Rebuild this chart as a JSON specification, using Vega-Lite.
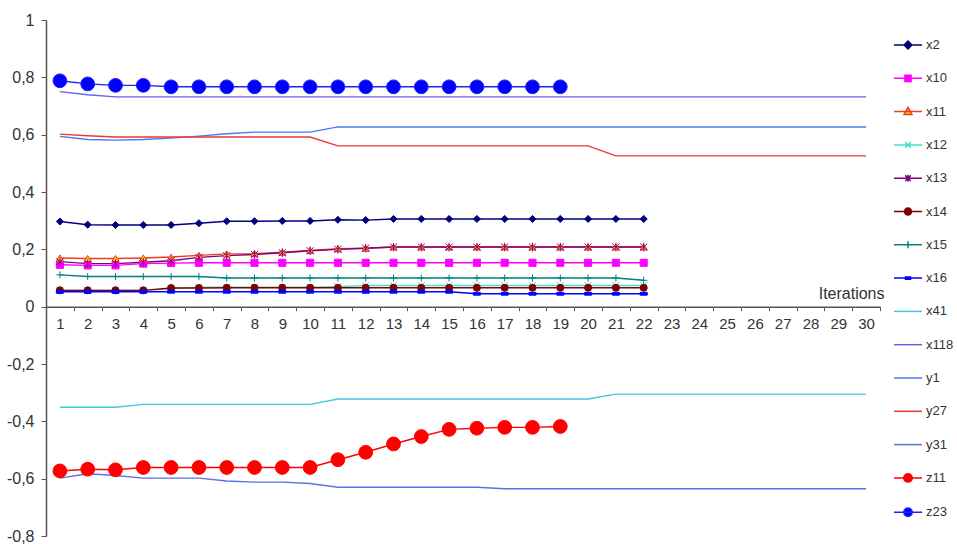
{
  "$schema": "https://vega.github.io/schema/vega-lite/v6.json",
  "width": 834,
  "height": 516,
  "padding": {"left": 46, "top": 20, "right": 77, "bottom": 8},
  "autosize": {"type": "none"},
  "background": "white",
  "config": {"view": {"stroke": null}, "font": "Liberation Sans"},
  "data": {
    "values": [
      {"i": 1, "x2": 0.297, "x10": 0.146, "x11": 0.170, "x12": 0.057, "x13": 0.157, "x14": 0.057, "x15": 0.111, "x16": 0.052, "x41": -0.351, "x118": 0.750, "y1": 0.594, "y27": 0.602, "y31": -0.598, "z11": -0.573, "z23": 0.788},
      {"i": 2, "x2": 0.286, "x10": 0.144, "x11": 0.168, "x12": 0.057, "x13": 0.150, "x14": 0.057, "x15": 0.105, "x16": 0.052, "x41": -0.351, "x118": 0.739, "y1": 0.583, "y27": 0.596, "y31": -0.583, "z11": -0.567, "z23": 0.777},
      {"i": 3, "x2": 0.285, "x10": 0.144, "x11": 0.168, "x12": 0.057, "x13": 0.150, "x14": 0.057, "x15": 0.105, "x16": 0.052, "x41": -0.351, "x118": 0.732, "y1": 0.581, "y27": 0.592, "y31": -0.589, "z11": -0.569, "z23": 0.772},
      {"i": 4, "x2": 0.285, "x10": 0.150, "x11": 0.170, "x12": 0.057, "x13": 0.155, "x14": 0.057, "x15": 0.105, "x16": 0.052, "x41": -0.341, "x118": 0.732, "y1": 0.583, "y27": 0.592, "y31": -0.598, "z11": -0.561, "z23": 0.772},
      {"i": 5, "x2": 0.285, "x10": 0.152, "x11": 0.173, "x12": 0.062, "x13": 0.160, "x14": 0.065, "x15": 0.105, "x16": 0.052, "x41": -0.341, "x118": 0.732, "y1": 0.588, "y27": 0.592, "y31": -0.598, "z11": -0.561, "z23": 0.767},
      {"i": 6, "x2": 0.291, "x10": 0.153, "x11": 0.179, "x12": 0.068, "x13": 0.172, "x14": 0.065, "x15": 0.105, "x16": 0.052, "x41": -0.341, "x118": 0.732, "y1": 0.595, "y27": 0.592, "y31": -0.598, "z11": -0.561, "z23": 0.767},
      {"i": 7, "x2": 0.298, "x10": 0.153, "x11": 0.184, "x12": 0.068, "x13": 0.178, "x14": 0.066, "x15": 0.100, "x16": 0.052, "x41": -0.341, "x118": 0.732, "y1": 0.603, "y27": 0.592, "y31": -0.608, "z11": -0.561, "z23": 0.767},
      {"i": 8, "x2": 0.298, "x10": 0.153, "x11": 0.185, "x12": 0.068, "x13": 0.182, "x14": 0.066, "x15": 0.100, "x16": 0.052, "x41": -0.341, "x118": 0.732, "y1": 0.609, "y27": 0.592, "y31": -0.612, "z11": -0.561, "z23": 0.767},
      {"i": 9, "x2": 0.299, "x10": 0.153, "x11": 0.190, "x12": 0.068, "x13": 0.188, "x14": 0.066, "x15": 0.100, "x16": 0.052, "x41": -0.341, "x118": 0.732, "y1": 0.609, "y27": 0.592, "y31": -0.612, "z11": -0.561, "z23": 0.767},
      {"i": 10, "x2": 0.299, "x10": 0.153, "x11": 0.196, "x12": 0.068, "x13": 0.195, "x14": 0.066, "x15": 0.100, "x16": 0.052, "x41": -0.341, "x118": 0.732, "y1": 0.609, "y27": 0.592, "y31": -0.617, "z11": -0.561, "z23": 0.767},
      {"i": 11, "x2": 0.303, "x10": 0.153, "x11": 0.202, "x12": 0.070, "x13": 0.200, "x14": 0.066, "x15": 0.100, "x16": 0.052, "x41": -0.322, "x118": 0.732, "y1": 0.627, "y27": 0.561, "y31": -0.630, "z11": -0.534, "z23": 0.767},
      {"i": 12, "x2": 0.302, "x10": 0.153, "x11": 0.204, "x12": 0.074, "x13": 0.204, "x14": 0.066, "x15": 0.100, "x16": 0.052, "x41": -0.322, "x118": 0.732, "y1": 0.627, "y27": 0.561, "y31": -0.630, "z11": -0.508, "z23": 0.767},
      {"i": 13, "x2": 0.306, "x10": 0.153, "x11": 0.208, "x12": 0.074, "x13": 0.208, "x14": 0.066, "x15": 0.100, "x16": 0.052, "x41": -0.322, "x118": 0.732, "y1": 0.627, "y27": 0.561, "y31": -0.630, "z11": -0.479, "z23": 0.767},
      {"i": 14, "x2": 0.306, "x10": 0.153, "x11": 0.208, "x12": 0.074, "x13": 0.208, "x14": 0.066, "x15": 0.100, "x16": 0.052, "x41": -0.322, "x118": 0.732, "y1": 0.627, "y27": 0.561, "y31": -0.630, "z11": -0.453, "z23": 0.767},
      {"i": 15, "x2": 0.306, "x10": 0.153, "x11": 0.208, "x12": 0.074, "x13": 0.208, "x14": 0.066, "x15": 0.100, "x16": 0.052, "x41": -0.322, "x118": 0.732, "y1": 0.627, "y27": 0.561, "y31": -0.630, "z11": -0.428, "z23": 0.767},
      {"i": 16, "x2": 0.306, "x10": 0.153, "x11": 0.208, "x12": 0.074, "x13": 0.208, "x14": 0.066, "x15": 0.100, "x16": 0.045, "x41": -0.322, "x118": 0.732, "y1": 0.627, "y27": 0.561, "y31": -0.630, "z11": -0.424, "z23": 0.767},
      {"i": 17, "x2": 0.306, "x10": 0.153, "x11": 0.208, "x12": 0.074, "x13": 0.208, "x14": 0.066, "x15": 0.100, "x16": 0.045, "x41": -0.322, "x118": 0.732, "y1": 0.627, "y27": 0.561, "y31": -0.635, "z11": -0.421, "z23": 0.767},
      {"i": 18, "x2": 0.306, "x10": 0.153, "x11": 0.208, "x12": 0.074, "x13": 0.208, "x14": 0.066, "x15": 0.100, "x16": 0.045, "x41": -0.322, "x118": 0.732, "y1": 0.627, "y27": 0.561, "y31": -0.635, "z11": -0.421, "z23": 0.767},
      {"i": 19, "x2": 0.306, "x10": 0.153, "x11": 0.208, "x12": 0.074, "x13": 0.208, "x14": 0.066, "x15": 0.100, "x16": 0.045, "x41": -0.322, "x118": 0.732, "y1": 0.627, "y27": 0.561, "y31": -0.635, "z11": -0.418, "z23": 0.767},
      {"i": 20, "x2": 0.306, "x10": 0.153, "x11": 0.208, "x12": 0.074, "x13": 0.208, "x14": 0.066, "x15": 0.100, "x16": 0.045, "x41": -0.322, "x118": 0.732, "y1": 0.627, "y27": 0.561, "y31": -0.635},
      {"i": 21, "x2": 0.306, "x10": 0.153, "x11": 0.208, "x12": 0.074, "x13": 0.208, "x14": 0.066, "x15": 0.100, "x16": 0.045, "x41": -0.305, "x118": 0.732, "y1": 0.627, "y27": 0.526, "y31": -0.635},
      {"i": 22, "x2": 0.306, "x10": 0.153, "x11": 0.208, "x12": 0.074, "x13": 0.208, "x14": 0.066, "x15": 0.092, "x16": 0.045, "x41": -0.305, "x118": 0.732, "y1": 0.627, "y27": 0.526, "y31": -0.635},
      {"i": 23, "x41": -0.305, "x118": 0.732, "y1": 0.627, "y27": 0.526, "y31": -0.635},
      {"i": 24, "x41": -0.305, "x118": 0.732, "y1": 0.627, "y27": 0.526, "y31": -0.635},
      {"i": 25, "x41": -0.305, "x118": 0.732, "y1": 0.627, "y27": 0.526, "y31": -0.635},
      {"i": 26, "x41": -0.305, "x118": 0.732, "y1": 0.627, "y27": 0.526, "y31": -0.635},
      {"i": 27, "x41": -0.305, "x118": 0.732, "y1": 0.627, "y27": 0.526, "y31": -0.635},
      {"i": 28, "x41": -0.305, "x118": 0.732, "y1": 0.627, "y27": 0.526, "y31": -0.635},
      {"i": 29, "x41": -0.305, "x118": 0.732, "y1": 0.627, "y27": 0.526, "y31": -0.635},
      {"i": 30, "x41": -0.305, "x118": 0.732, "y1": 0.627, "y27": 0.526, "y31": -0.635}
    ]
  },
  "transform": [
    {"fold": ["x2", "x10", "x11", "x12", "x13", "x14", "x15", "x16", "x41", "x118", "y1", "y27", "y31", "z11", "z23"], "as": ["s", "v"]},
    {"filter": "isValid(datum.v)"}
  ],
  "encoding": {
    "x": {
      "field": "i",
      "type": "ordinal",
      "scale": {"type": "band", "domain": [1,2,3,4,5,6,7,8,9,10,11,12,13,14,15,16,17,18,19,20,21,22,23,24,25,26,27,28,29,30], "paddingInner": 0, "paddingOuter": 0},
      "axis": {
        "orient": "bottom",
        "offset": -229.3,
        "tickBand": "extent",
        "labelAngle": 0,
        "labelFontSize": 15,
        "labelColor": "#333333",
        "labelPadding": 6,
        "tickSize": 4,
        "tickColor": "#555555",
        "domainColor": "#555555",
        "domainWidth": 1.5,
        "title": "Iterations",
        "titleFontSize": 16,
        "titleFontWeight": "normal",
        "titleColor": "#333333",
        "titleAnchor": "end",
        "titleAlign": "right",
        "titleBaseline": "bottom",
        "titleY": -5,
        "titleX": 838
      }
    },
    "y": {
      "field": "v",
      "type": "quantitative",
      "scale": {"domain": [-0.8, 1], "nice": false, "zero": false},
      "axis": {
        "values": [-0.8, -0.6, -0.4, -0.2, 0, 0.2, 0.4, 0.6, 0.8, 1],
        "labelExpr": "replace(replace(format(datum.value, '.1~f'), '.', ','), '\u2212', '-')",
        "title": null,
        "grid": false,
        "tickSize": 5,
        "tickColor": "#555555",
        "domainColor": "#555555",
        "domainWidth": 1.5,
        "labelFontSize": 16,
        "labelColor": "#333333",
        "labelPadding": 7
      }
    }
  },
  "layer": [
    {
      "mark": {"type": "line", "strokeWidth": 1.4},
      "encoding": {
        "stroke": {
          "field": "s",
          "type": "nominal",
          "scale": {
            "domain": ["x2", "x10", "x11", "x12", "x13", "x14", "x15", "x16", "x41", "x118", "y1", "y27", "y31", "z11", "z23"],
            "range": ["#000080", "#FF00FF", "#F03C1E", "#40E0D0", "#800080", "#800000", "#008080", "#0000FF", "#40C8E0", "#6464E6", "#4A78F0", "#E83838", "#5F6FE0", "#FF0000", "#2020FF"]
          },
          "legend": {
            "orient": "none",
            "legendX": 847,
            "legendY": 10,
            "title": null,
            "padding": 0,
            "labelFontSize": 13,
            "labelColor": "#333333",
            "labelOffset": 3,
            "symbolSize": 784,
            "rowPadding": 11.3,
            "symbolStrokeWidth": 1.5,
            "encode": {
              "symbols": {
                "update": {
                  "shape": {"signal": "({'x2':'M-1,0H1M0,-0.28L0.28,0L0,0.28L-0.28,0Z','x10':'M-1,0H1M-0.22,-0.22H0.22V0.22H-0.22Z','x11':'M-1,0H1M0,-0.3L0.28,0.2H-0.28Z','x12':'M-1,0H1M-0.2,-0.2L0.2,0.2M-0.2,0.2L0.2,-0.2','x13':'M-1,0H1M-0.2,-0.2L0.2,0.2M-0.2,0.2L0.2,-0.2M0,-0.25V0.25','x14':'M-1,0H1M-0.25,0A0.25,0.25,0,1,0,0.25,0A0.25,0.25,0,1,0,-0.25,0Z','x15':'M-1,0H1M0,-0.25V0.25','x16':'M-1,0H1M-0.18,-0.08H0.18V0.08H-0.18Z','x41':'M-1,0H1','x118':'M-1,0H1','y1':'M-1,0H1','y27':'M-1,0H1','y31':'M-1,0H1','z11':'M-1,0H1M-0.3,0A0.3,0.3,0,1,0,0.3,0A0.3,0.3,0,1,0,-0.3,0Z','z23':'M-1,0H1M-0.3,0A0.3,0.3,0,1,0,0.3,0A0.3,0.3,0,1,0,-0.3,0Z'})[datum.value]"},
                  "fill": {"scale": "fill", "field": "value"},
                  "stroke": {"scale": "stroke", "field": "value"},
                  "strokeWidth": {"value": 1.5},
                  "size": {"value": 784},
                  "opacity": {"value": 1}
                }
              }
            }
          }
        }
      }
    },
    {
      "transform": [{"filter": {"field": "s", "oneOf": ["x2", "x10", "x11", "x12", "x13", "x14", "x15", "x16"]}}],
      "mark": {"type": "point", "filled": true, "size": 50, "strokeWidth": 1, "opacity": 1},
      "encoding": {
        "stroke": {"field": "s", "type": "nominal"},
        "fill": {
          "field": "s",
          "type": "nominal",
          "scale": {
            "domain": ["x2", "x10", "x11", "x12", "x13", "x14", "x15", "x16", "x41", "x118", "y1", "y27", "y31", "z11", "z23"],
            "range": ["#000080", "#FF00FF", "#FFCC00", "#40E0D0", "#800080", "#800000", "#008080", "#0000FF", "#40C8E0", "#6464E6", "#4A78F0", "#E83838", "#5F6FE0", "#FF0000", "#0000FF"]
          },
          "legend": null
        },
        "shape": {
          "field": "s",
          "type": "nominal",
          "scale": {
            "domain": ["x2", "x10", "x11", "x12", "x13", "x14", "x15", "x16"],
            "range": ["diamond", "square", "triangle-up", "M-1,-1L1,1M-1,1L1,-1", "M-1,-1L1,1M-1,1L1,-1M0,-1.2V1.2", "circle", "M-1,0H1M0,-1V1", "M-1,-0.4H1V0.4H-1Z"]
          },
          "legend": null
        }
      }
    },
    {
      "transform": [{"filter": {"field": "s", "oneOf": ["z11", "z23"]}}],
      "mark": {"type": "point", "filled": true, "size": 190, "shape": "circle", "strokeWidth": 1, "opacity": 1},
      "encoding": {
        "stroke": {"field": "s", "type": "nominal"},
        "fill": {"field": "s", "type": "nominal", "legend": null}
      }
    }
  ]
}
